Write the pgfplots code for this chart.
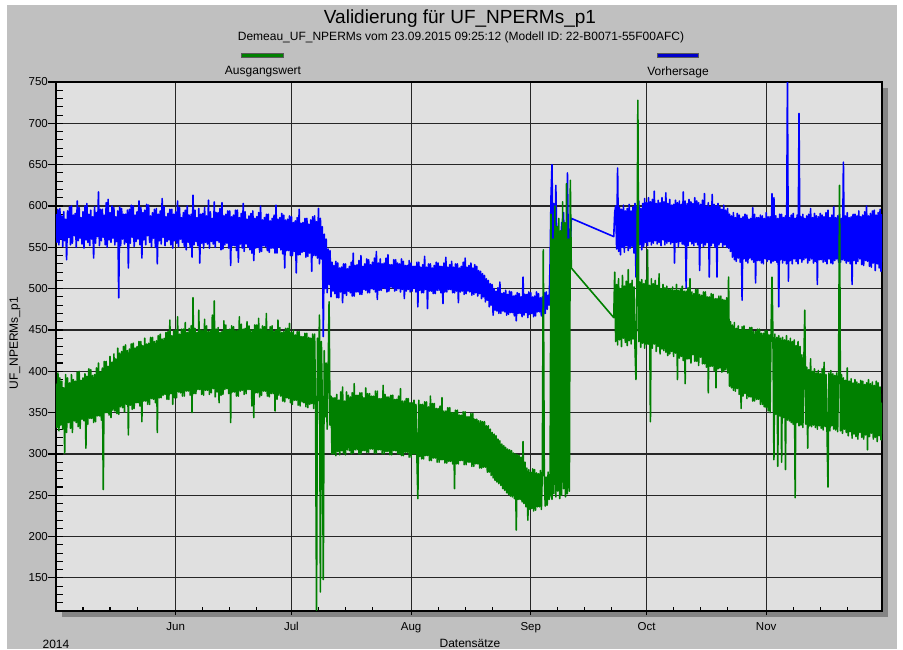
\documentclass[border=0pt]{standalone}
\usepackage{pgfplots}
\pgfplotsset{compat=1.18}
\usepackage{fontspec}
\setmainfont{Liberation Sans}
\setsansfont{Liberation Sans}

\definecolor{outerbg}{HTML}{C0C0C0}
\definecolor{plotbg}{HTML}{E0E0E0}
\definecolor{shadowc}{HTML}{858585}
\definecolor{gridc}{HTML}{262626}
\definecolor{measured}{HTML}{008000}
\definecolor{predicted}{HTML}{0000FF}

% common geometry of the plot frame and of the tick-only overlays
\pgfplotsset{
  frame/.style={
    at={(56pt,38pt)}, anchor=south west,
    scale only axis, width=826pt, height=529pt,
    xmin=0, xmax=214, ymin=110, ymax=750,
    tick pos=left,
    tick style={line width=1.1pt, black},
  },
  tickonly/.style={
    frame,
    axis line style={draw=none},
    xticklabels={}, yticklabels={},
  },
  series/.style={line width=1.6pt, line join=round},
}

\begin{document}
\begin{tikzpicture}
\useasboundingbox (0pt,0pt) rectangle (903pt,649pt);
\fill[white] (0pt,0pt) rectangle (903pt,649pt);
\fill[outerbg] (7pt,0pt) rectangle (897pt,644pt);
% drop shadow behind the plot area
\fill[shadowc] (62pt,32pt) rectangle (888pt,561pt);

% titles
\node[font=\fontsize{19}{22}\selectfont] at (460pt,630pt) {Validierung für UF\_NPERMs\_p1};
\node[font=\fontsize{12}{14}\selectfont] at (461pt,612pt) {Demeau\_UF\_NPERMs vom 23.09.2015 09:25:12 (Modell ID: 22-B0071-55F00AFC)};

% legend above the plot
\filldraw[fill=measured, draw=black!65, line width=0.6pt] (241pt,592pt) rectangle (283pt,596pt);
\filldraw[fill=predicted!80!black, draw=black!65, line width=0.6pt] (657pt,592pt) rectangle (698pt,596pt);
\node[font=\fontsize{12}{14}\selectfont] at (263pt,577pt) {Ausgangswert};
\node[font=\fontsize{12}{14}\selectfont] at (678pt,577pt) {Vorhersage};

% axis titles and year
\node[font=\fontsize{12}{14}\selectfont, rotate=90] at (15pt,306pt) {UF\_NPERMs\_p1};
\node[font=\fontsize{12}{14}\selectfont] at (470pt,6pt) {Datensätze};
\node[font=\fontsize{12}{14}\selectfont] at (56pt,5pt) {2014};

\begin{axis}[
  frame,
  axis background/.style={fill=plotbg},
  axis line style={line width=1.6pt, black},
  xtick={31,61,92,123,153,184},
  xticklabels={Jun,Jul,Aug,Sep,Oct,Nov},
  ytick={150,200,...,750},
  minor ytick={120,130,...,740},
  tick align=inside,
  major tick length=0pt,
  minor tick length=7pt,
  grid=major,
  major grid style={line width=1.1pt, gridc},
  /pgf/number format/assume math mode=true,
  ticklabel style={font=\fontsize{11.5}{13}\selectfont},
  yticklabel style={inner xsep=1pt, xshift=-7pt},
  xticklabel style={yshift=-8pt},
]

% Vorhersage (model prediction), x = days since 1 May 2014
\addplot[predicted, series] coordinates {
(0,590)(0.25,556)(0.5,596)(0.75,553)(1,597)(1.25,560)(1.5,588)(1.75,551)
(2,593)(2.25,558)(2.5,584)(2.75,535)(3,594)(3.25,562)(3.5,599)(3.75,553)
(4,600)(4.25,555)(4.5,589)(4.75,564)(5,591)(5.25,550)(5.5,606)(5.75,558)
(6,598)(6.25,561)(6.5,586)(6.75,554)(7,593)(7.25,549)(7.5,600)(7.75,559)
(8,603)(8.25,556)(8.5,590)(8.75,552)(9,595)(9.25,560)(9.5,587)(9.75,537)
(10,599)(10.25,555)(10.5,592)(10.75,563)(11,617)(11.25,552)(11.5,596)(11.75,558)
(12,596)(12.25,562)(12.5,589)(12.75,553)(13,604)(13.25,550)(13.5,608)(13.75,559)
(14,592)(14.25,556)(14.5,600)(14.75,561)(15,598)(15.25,553)(15.5,587)(15.75,557)
(16,594)(16.25,489)(16.5,599)(16.75,552)(17,597)(17.25,560)(17.5,590)(17.75,554)
(18,590)(18.25,556)(18.5,595)(18.75,525)(19,596)(19.25,555)(19.5,601)(19.75,562)
(20,600)(20.25,551)(20.5,589)(20.75,557)(21,593)(21.25,560)(21.5,606)(21.75,553)
(22,598)(22.25,537)(22.5,592)(22.75,559)(23,595)(23.25,553)(23.5,602)(23.75,564)
(24,601)(24.25,556)(24.5,588)(24.75,551)(25,592)(25.25,561)(25.5,596)(25.75,550)
(26,597)(26.25,530)(26.5,590)(26.75,558)(27,594)(27.25,554)(27.5,609)(27.75,562)
(28,599)(28.25,552)(28.5,587)(28.75,557)(29,591)(29.25,559)(29.5,596)(29.75,553)
(30,596)(30.25,549)(30.5,590)(30.75,558)(31,593)(31.25,555)(31.5,606)(31.75,551)
(32,598)(32.25,560)(32.5,586)(32.75,556)(33,592)(33.25,551)(33.5,595)(33.75,547)
(34,600)(34.25,556)(34.5,589)(34.75,550)(35,590)(35.25,538)(35.5,613)(35.75,553)
(36,595)(36.25,557)(36.5,586)(36.75,552)(37,597)(37.25,531)(37.5,590)(37.75,555)
(38,591)(38.25,549)(38.5,598)(38.75,556)(39,588)(39.25,554)(39.5,607)(39.75,549)
(40,593)(40.25,557)(40.5,585)(40.75,554)(41,605)(41.25,550)(41.5,592)(41.75,558)
(42,592)(42.25,556)(42.5,597)(42.75,547)(43,604)(43.25,548)(43.5,588)(43.75,553)
(44,590)(44.25,555)(44.5,594)(44.75,549)(45,594)(45.25,528)(45.5,587)(45.75,552)
(46,589)(46.25,552)(46.5,595)(46.75,546)(47,595)(47.25,532)(47.5,586)(47.75,554)
(48,591)(48.25,549)(48.5,603)(48.75,545)(49,593)(49.25,554)(49.5,584)(49.75,550)
(50,588)(50.25,547)(50.5,591)(50.75,543)(51,594)(51.25,534)(51.5,585)(51.75,549)
(52,587)(52.25,550)(52.5,592)(52.75,544)(53,600)(53.25,545)(53.5,583)(53.75,552)
(54,586)(54.25,551)(54.5,590)(54.75,546)(55,590)(55.25,544)(55.5,582)(55.75,549)
(56,585)(56.25,549)(56.5,589)(56.75,543)(57,601)(57.25,543)(57.5,584)(57.75,550)
(58,586)(58.25,547)(58.5,591)(58.75,542)(59,589)(59.25,525)(59.5,583)(59.75,546)
(60,584)(60.25,546)(60.5,588)(60.75,540)(61,587)(61.25,540)(61.5,580)(61.75,545)
(62,582)(62.25,519)(62.5,586)(62.75,541)(63,596)(63.25,541)(63.5,579)(63.75,544)
(64,580)(64.25,545)(64.5,585)(64.75,538)(65,585)(65.25,539)(65.5,578)(65.75,543)
(66,583)(66.25,521)(66.5,587)(66.75,540)(67,588)(67.25,540)(67.5,581)(67.75,537)
(68,597)(68.25,530)(68.5,585)(68.75,536)(69,575)(69.25,442)(69.5,566)(69.75,500)
(70,560)(70.25,495)(70.5,548)(70.75,505)(71,546)(71.25,490)(71.5,532)(71.75,497)
(72,528)(72.25,494)(72.5,533)(72.75,489)(73,531)(73.25,489)(73.5,525)(73.75,496)
(74,526)(74.25,483)(74.5,530)(74.75,494)(75,530)(75.25,492)(75.5,524)(75.75,497)
(76,527)(76.25,495)(76.5,532)(76.75,491)(77,543)(77.25,491)(77.5,528)(77.75,496)
(78,529)(78.25,496)(78.5,534)(78.75,493)(79,540)(79.25,493)(79.5,527)(79.75,499)
(80,530)(80.25,498)(80.5,536)(80.75,495)(81,535)(81.25,495)(81.5,529)(81.75,500)
(82,532)(82.25,499)(82.5,537)(82.75,496)(83,545)(83.25,487)(83.5,531)(83.75,498)
(84,536)(84.25,498)(84.5,530)(84.75,501)(85,531)(85.25,500)(85.5,537)(85.75,496)
(86,541)(86.25,497)(86.5,529)(86.75,502)(87,529)(87.25,501)(87.5,535)(87.75,497)
(88,535)(88.25,498)(88.5,531)(88.75,500)(89,530)(89.25,496)(89.5,536)(89.75,499)
(90,533)(90.25,488)(90.5,528)(90.75,497)(91,528)(91.25,499)(91.5,534)(91.75,496)
(92,531)(92.25,497)(92.5,527)(92.75,500)(93,527)(93.25,496)(93.5,532)(93.75,478)
(94,532)(94.25,498)(94.5,526)(94.75,495)(95,529)(95.25,495)(95.5,539)(95.75,499)
(96,526)(96.25,476)(96.5,530)(96.75,497)(97,530)(97.25,497)(97.5,525)(97.75,494)
(98,528)(98.25,494)(98.5,532)(98.75,498)(99,531)(99.25,498)(99.5,527)(99.75,495)
(100,527)(100.25,482)(100.5,531)(100.75,496)(101,538)(101.25,496)(101.5,526)(101.75,499)
(102,529)(102.25,499)(102.5,533)(102.75,495)(103,526)(103.25,495)(103.5,530)(103.75,497)
(104,530)(104.25,483)(104.5,525)(104.75,496)(105,527)(105.25,497)(105.5,532)(105.75,493)
(106,537)(106.25,494)(106.5,526)(106.75,497)(107,528)(107.25,496)(107.5,531)(107.75,492)
(108,525)(108.25,493)(108.5,529)(108.75,495)(109,527)(109.25,491)(109.5,522)(109.75,494)
(110,521)(110.25,488)(110.5,518)(110.75,490)(111,516)(111.25,484)(111.5,512)(111.75,486)
(112,510)(112.25,478)(112.5,506)(112.75,480)(113,505)(113.25,468)(113.5,500)(113.75,474)
(114,497)(114.25,473)(114.5,501)(114.75,470)(115,508)(115.25,470)(115.5,494)(115.75,473)
(116,495)(116.25,472)(116.5,498)(116.75,468)(117,493)(117.25,469)(117.5,497)(117.75,471)
(118,496)(118.25,471)(118.5,491)(118.75,467)(119,492)(119.25,461)(119.5,495)(119.75,470)
(120,494)(120.25,470)(120.5,490)(120.75,466)(121,514)(121.25,468)(121.5,493)(121.75,471)
(122,493)(122.25,465)(122.5,496)(122.75,469)(123,495)(123.25,470)(123.5,490)(123.75,466)
(124,491)(124.25,467)(124.5,496)(124.75,472)(125,494)(125.25,472)(125.5,489)(125.75,467)
(126,490)(126.25,468)(126.5,495)(126.75,470)(127,496)(127.25,475)(127.5,492)(127.75,480)
(128,530)(128.25,612)(128.5,650)(128.75,548)(129,603)(129.25,538)(129.5,625)(129.75,552)
(130,575)(130.25,520)(130.5,568)(130.75,531)(131,580)(131.25,540)(131.5,592)(131.75,527)
(132,560)(132.25,535)(132.5,640)(132.75,548)(133,572)(133.25,541)(133.5,585)
(144.5,563)(144.75,592)
(145,600)(145.25,548)(145.5,646)(145.75,545)(146,598)(146.25,541)(146.5,596)(146.75,550)
(147,601)(147.25,544)(147.5,594)(147.75,552)(148,597)(148.25,546)(148.5,602)(148.75,549)
(149,594)(149.25,551)(149.5,599)(149.75,543)(150,603)(150.25,514)(150.5,600)(150.75,548)
(151,606)(151.25,553)(151.5,597)(151.75,547)(152,603)(152.25,551)(152.5,609)(152.75,556)
(153,604)(153.25,552)(153.5,610)(153.75,557)(154,605)(154.25,553)(154.5,608)(154.75,555)
(155,618)(155.25,558)(155.5,603)(155.75,554)(156,607)(156.25,556)(156.5,604)(156.75,552)
(157,610)(157.25,559)(157.5,605)(157.75,553)(158,616)(158.25,555)(158.5,603)(158.75,557)
(159,608)(159.25,554)(159.5,601)(159.75,556)(160,602)(160.25,531)(160.5,607)(160.75,556)
(161,604)(161.25,551)(161.5,606)(161.75,557)(162,602)(162.25,554)(162.5,617)(162.75,553)
(163,606)(163.25,501)(163.5,603)(163.75,552)(164,608)(164.25,557)(164.5,605)(164.75,554)
(165,603)(165.25,552)(165.5,610)(165.75,556)(166,606)(166.25,553)(166.5,604)(166.75,522)
(167,602)(167.25,555)(167.5,607)(167.75,551)(168,615)(168.25,553)(168.5,600)(168.75,556)
(169,604)(169.25,514)(169.5,599)(169.75,552)(170,614)(170.25,555)(170.5,602)(170.75,550)
(171,600)(171.25,514)(171.5,603)(171.75,553)(172,599)(172.25,556)(172.5,596)(172.75,551)
(173,601)(173.25,553)(173.5,595)(173.75,550)(174,597)(174.25,549)(174.5,590)(174.75,545)
(175,588)(175.25,538)(175.5,592)(175.75,535)(176,586)(176.25,533)(176.5,591)(176.75,537)
(177,589)(177.25,532)(177.5,585)(177.75,486)(178,587)(178.25,536)(178.5,590)(178.75,533)
(179,589)(179.25,531)(179.5,584)(179.75,537)(180,585)(180.25,535)(180.5,598)(180.75,532)
(181,590)(181.25,507)(181.5,586)(181.75,534)(182,586)(182.25,534)(182.5,589)(182.75,531)
(183,588)(183.25,530)(183.5,585)(183.75,536)(184,592)(184.25,533)(184.5,587)(184.75,535)
(185,587)(185.25,531)(185.5,615)(185.75,533)(186,610)(186.25,534)(186.5,588)(186.75,532)
(187,585)(187.25,478)(187.5,590)(187.75,535)(188,590)(188.25,531)(188.5,586)(188.75,534)
(189,588)(189.25,530)(189.5,752)(189.75,509)(190,586)(190.25,534)(190.5,589)(190.75,530)
(191,591)(191.25,536)(191.5,585)(191.75,533)(192,589)(192.25,530)(192.5,712)(192.75,536)
(193,587)(193.25,532)(193.5,590)(193.75,535)(194,585)(194.25,537)(194.5,588)(194.75,531)
(195,590)(195.25,534)(195.5,597)(195.75,536)(196,586)(196.25,531)(196.5,591)(196.75,533)
(197,588)(197.25,505)(197.5,587)(197.75,535)(198,591)(198.25,535)(198.5,589)(198.75,532)
(199,587)(199.25,533)(199.5,592)(199.75,530)(200,595)(200.25,536)(200.5,586)(200.75,531)
(201,589)(201.25,530)(201.5,599)(201.75,534)(202,586)(202.25,536)(202.5,588)(202.75,532)
(203,590)(203.25,532)(203.5,585)(203.75,535)(204,653)(204.25,534)(204.5,588)(204.75,531)
(205,592)(205.25,533)(205.5,586)(205.75,530)(206,587)(206.25,505)(206.5,590)(206.75,534)
(207,590)(207.25,530)(207.5,588)(207.75,533)(208,594)(208.25,536)(208.5,587)(208.75,529)
(209,589)(209.25,528)(209.5,593)(209.75,534)(210,600)(210.25,533)(210.5,588)(210.75,527)
(211,591)(211.25,526)(211.5,594)(211.75,531)(212,595)(212.25,522)(212.5,589)(212.75,530)
(213,592)(213.25,525)(213.5,596)(213.75,521)(214,590)
};

% Ausgangswert (measured value)
\addplot[measured, series] coordinates {
(0,385)(0.25,332)(0.5,398)(0.75,328)(1,392)(1.25,335)(1.5,388)(1.75,330)
(2,380)(2.25,301)(2.5,396)(2.75,326)(3,392)(3.25,338)(3.5,386)(3.75,331)
(4,396)(4.25,326)(4.5,390)(4.75,340)(5,388)(5.25,338)(5.5,399)(5.75,333)
(6,400)(6.25,331)(6.5,389)(6.75,342)(7,392)(7.25,340)(7.5,397)(7.75,307)
(8,394)(8.25,336)(8.5,403)(8.75,343)(9,402)(9.25,343)(9.5,395)(9.75,338)
(10,396)(10.25,339)(10.5,404)(10.75,346)(11,410)(11.25,346)(11.5,399)(11.75,341)
(12,404)(12.25,257)(12.5,412)(12.75,350)(13,412)(13.25,350)(13.5,406)(13.75,347)
(14,418)(14.25,344)(14.5,411)(14.75,353)(15,421)(15.25,352)(15.5,415)(15.75,349)
(16,428)(16.25,348)(16.5,422)(16.75,357)(17,424)(17.25,356)(17.5,430)(17.75,351)
(18,432)(18.25,360)(18.5,425)(18.75,323)(19,427)(19.25,359)(19.5,433)(19.75,354)
(20,434)(20.25,355)(20.5,428)(20.75,362)(21,430)(21.25,362)(21.5,436)(21.75,358)
(22,436)(22.25,339)(22.5,431)(22.75,364)(23,440)(23.25,364)(23.5,433)(23.75,360)
(24,434)(24.25,360)(24.5,441)(24.75,367)(25,441)(25.25,366)(25.5,436)(25.75,362)
(26,437)(26.25,326)(26.5,443)(26.75,368)(27,445)(27.25,368)(27.5,439)(27.75,371)
(28,440)(28.25,372)(28.5,447)(28.75,366)(29,448)(29.25,366)(29.5,462)(29.75,373)
(30,443)(30.25,360)(30.5,449)(30.75,368)(31,450)(31.25,368)(31.5,466)(31.75,375)
(32,445)(32.25,374)(32.5,451)(32.75,370)(33,451)(33.25,370)(33.5,459)(33.75,376)
(34,447)(34.25,376)(34.5,452)(34.75,371)(35,455)(35.25,350)(35.5,489)(35.75,373)
(36,452)(36.25,373)(36.5,447)(36.75,378)(37,474)(37.25,378)(37.5,450)(37.75,372)
(38,449)(38.25,371)(38.5,463)(38.75,377)(39,455)(39.25,377)(39.5,448)(39.75,372)
(40,450)(40.25,374)(40.5,468)(40.75,379)(41,485)(41.25,369)(41.5,451)(41.75,375)
(42,453)(42.25,362)(42.5,447)(42.75,371)(43,448)(43.25,372)(43.5,461)(43.75,378)
(44,456)(44.25,379)(44.5,450)(44.75,373)(45,451)(45.25,338)(45.5,455)(45.75,375)
(46,454)(46.25,375)(46.5,449)(46.75,370)(47,449)(47.25,370)(47.5,466)(47.75,376)
(48,457)(48.25,377)(48.5,451)(48.75,372)(49,452)(49.25,373)(49.5,460)(49.75,378)
(50,455)(50.25,378)(50.5,450)(50.75,358)(51,450)(51.25,344)(51.5,456)(51.75,374)
(52,456)(52.25,374)(52.5,464)(52.75,369)(53,451)(53.25,371)(53.5,455)(53.75,376)
(54,454)(54.25,376)(54.5,470)(54.75,370)(55,449)(55.25,369)(55.5,454)(55.75,373)
(56,455)(56.25,373)(56.5,448)(56.75,352)(57,450)(57.25,366)(57.5,462)(57.75,371)
(58,453)(58.25,370)(58.5,447)(58.75,364)(59,448)(59.25,363)(59.5,452)(59.75,368)
(60,452)(60.25,367)(60.5,458)(60.75,362)(61,447)(61.25,360)(61.5,450)(61.75,365)
(62,444)(62.25,365)(62.5,448)(62.75,359)(63,448)(63.25,358)(63.5,442)(63.75,363)
(64,442)(64.25,362)(64.5,446)(64.75,357)(65,446)(65.25,356)(65.5,441)(65.75,360)
(66,440)(66.25,361)(66.5,445)(66.75,355)(67,445)(67.25,358)(67.5,111)(67.75,440)
(68,365)(68.25,468)(68.5,133)(68.75,436)(69,360)(69.25,148)(69.5,425)(69.75,345)
(70,410)(70.25,330)(70.5,395)(70.75,484)(71,335)(71.25,370)(71.5,300)(71.75,368)
(72,300)(72.25,368)(72.5,298)(72.75,372)(73,303)(73.25,365)(73.5,299)(73.75,375)
(74,304)(74.25,381)(74.5,301)(74.75,364)(75,299)(75.25,375)(75.5,305)(75.75,371)
(76,304)(76.25,369)(76.5,300)(76.75,374)(77,301)(77.25,385)(77.5,305)(77.75,371)
(78,305)(78.25,371)(78.5,300)(78.75,374)(79,300)(79.25,374)(79.5,304)(79.75,368)
(80,304)(80.25,380)(80.5,302)(80.75,373)(81,302)(81.25,373)(81.5,306)(81.75,370)
(82,306)(82.25,370)(82.5,301)(82.75,376)(83,301)(83.25,376)(83.5,305)(83.75,367)
(84,305)(84.25,367)(84.5,300)(84.75,383)(85,300)(85.25,372)(85.5,303)(85.75,369)
(86,303)(86.25,369)(86.5,299)(86.75,371)(87,299)(87.25,371)(87.5,304)(87.75,366)
(88,304)(88.25,366)(88.5,300)(88.75,370)(89,300)(89.25,379)(89.5,298)(89.75,364)
(90,298)(90.25,364)(90.5,302)(90.75,367)(91,302)(91.25,367)(91.5,296)(91.75,362)
(92,296)(92.25,362)(92.5,300)(92.75,365)(93,300)(93.25,360)(93.5,297)(93.75,246)
(94,365)(94.25,297)(94.5,360)(94.75,294)(95,360)(95.25,294)(95.5,363)(95.75,298)
(96,363)(96.25,298)(96.5,357)(96.75,292)(97,370)(97.25,292)(97.5,361)(97.75,295)
(98,361)(98.25,295)(98.5,355)(98.75,290)(99,355)(99.25,290)(99.5,358)(99.75,293)
(100,368)(100.25,293)(100.5,352)(100.75,289)(101,352)(101.25,289)(101.5,356)(101.75,291)
(102,356)(102.25,291)(102.5,350)(102.75,288)(103,350)(103.25,258)(103.5,353)(103.75,288)
(104,353)(104.25,288)(104.5,347)(104.75,292)(105,347)(105.25,292)(105.5,351)(105.75,287)
(106,351)(106.25,287)(106.5,345)(106.75,290)(107,345)(107.25,290)(107.5,349)(107.75,285)
(108,349)(108.25,285)(108.5,342)(108.75,288)(109,342)(109.25,288)(109.5,340)(109.75,283)
(110,340)(110.25,283)(110.5,339)(110.75,284)(111,339)(111.25,284)(111.5,334)(111.75,278)
(112,334)(112.25,278)(112.5,330)(112.75,274)(113,326)(113.25,271)(113.5,324)(113.75,268)
(114,322)(114.25,266)(114.5,318)(114.75,264)(115,316)(115.25,262)(115.5,312)(115.75,258)
(116,310)(116.25,256)(116.5,308)(116.75,253)(117,306)(117.25,251)(117.5,305)(117.75,249)
(118,304)(118.25,248)(118.5,301)(118.75,246)(119,300)(119.25,208)(119.5,299)(119.75,245)
(120,298)(120.25,245)(120.5,296)(120.75,242)(121,315)(121.25,240)(121.5,290)(121.75,236)
(122,283)(122.25,220)(122.5,281)(122.75,233)(123,278)(123.25,234)(123.5,282)(123.75,231)
(124,281)(124.25,232)(124.5,277)(124.75,236)(125,276)(125.25,236)(125.5,280)(125.75,233)
(126,280)(126.25,547)(126.5,274)(126.75,237)(127,272)(127.25,238)(127.5,278)(127.75,245)
(128,250)(128.25,590)(128.5,245)(128.75,560)(129,252)(129.25,600)(129.5,248)(129.75,575)
(130,255)(130.25,585)(130.5,246)(130.75,570)(131,250)(131.25,605)(131.5,258)(131.75,580)
(132,248)(132.25,627)(132.5,252)(132.75,560)(133,255)(133.25,631)(133.5,525)
(144.5,465)(144.75,520)
(145,436)(145.25,505)(145.5,432)(145.75,512)(146,438)(146.25,500)(146.5,430)(146.75,516)
(147,440)(147.25,503)(147.5,435)(147.75,509)(148,431)(148.25,523)(148.5,437)(148.75,506)
(149,433)(149.25,510)(149.5,439)(149.75,502)(150,430)(150.25,390)(150.5,503)(150.75,728)
(151,436)(151.25,508)(151.5,429)(151.75,511)(152,434)(152.25,506)(152.5,428)(152.75,510)
(153,432)(153.25,547)(153.5,433)(153.75,504)(154,339)(154.25,512)(154.5,428)(154.75,506)
(155,433)(155.25,510)(155.5,424)(155.75,504)(156,430)(156.25,518)(156.5,421)(156.75,500)
(157,427)(157.25,505)(157.5,425)(157.75,501)(158,423)(158.25,503)(158.5,419)(158.75,499)
(159,421)(159.25,500)(159.5,424)(159.75,502)(160,418)(160.25,498)(160.5,422)(160.75,505)
(161,390)(161.25,498)(161.5,416)(161.75,500)(162,418)(162.25,503)(162.5,413)(162.75,497)
(163,385)(163.25,497)(163.5,415)(163.75,501)(164,415)(164.25,512)(164.5,410)(164.75,496)
(165,420)(165.25,494)(165.5,412)(165.75,499)(166,412)(166.25,499)(166.5,407)(166.75,493)
(167,417)(167.25,492)(167.5,409)(167.75,496)(168,409)(168.25,496)(168.5,405)(168.75,490)
(169,374)(169.25,490)(169.5,406)(169.75,494)(170,406)(170.25,493)(170.5,401)(170.75,488)
(171,380)(171.25,488)(171.5,403)(171.75,491)(172,404)(172.25,491)(172.5,399)(172.75,487)
(173,400)(173.25,486)(173.5,402)(173.75,489)(174,398)(174.25,514)(174.5,382)(174.75,460)
(175,380)(175.25,456)(175.5,377)(175.75,459)(176,376)(176.25,452)(176.5,379)(176.75,455)
(177,372)(177.25,450)(177.5,355)(177.75,454)(178,370)(178.25,455)(178.5,373)(178.75,450)
(179,367)(179.25,450)(179.5,369)(179.75,453)(180,369)(180.25,453)(180.5,364)(180.75,448)
(181,364)(181.25,448)(181.5,366)(181.75,451)(182,366)(182.25,451)(182.5,360)(182.75,446)
(183,360)(183.25,446)(183.5,357)(183.75,449)(184,356)(184.25,449)(184.5,352)(184.75,444)
(185,350)(185.25,444)(185.5,514)(185.75,440)(186,293)(186.25,445)(186.5,348)(186.75,441)
(187,285)(187.25,443)(187.5,346)(187.75,440)(188,290)(188.25,441)(188.5,344)(188.75,438)
(189,281)(189.25,443)(189.5,341)(189.75,437)(190,340)(190.25,440)(190.5,338)(190.75,436)
(191,336)(191.25,438)(191.5,247)(191.75,431)(192,338)(192.25,436)(192.5,334)(192.75,430)
(193,335)(193.25,420)(193.5,332)(193.75,410)(194,474)(194.25,336)(194.5,405)(194.75,307)
(195,402)(195.25,334)(195.5,415)(195.75,333)(196,400)(196.25,335)(196.5,403)(196.75,332)
(197,398)(197.25,330)(197.5,401)(197.75,334)(198,397)(198.25,331)(198.5,403)(198.75,329)
(199,411)(199.25,333)(199.5,396)(199.75,330)(200,260)(200.25,398)(200.5,328)(200.75,401)
(201,334)(201.25,397)(201.5,330)(201.75,395)(202,329)(202.25,398)(202.5,327)(202.75,394)
(203,625)(203.25,328)(203.5,396)(203.75,325)(204,392)(204.25,330)(204.5,389)(204.75,326)
(205,404)(205.25,322)(205.5,388)(205.75,327)(206,391)(206.25,319)(206.5,386)(206.75,324)
(207,390)(207.25,321)(207.5,387)(207.75,318)(208,385)(208.25,326)(208.5,389)(208.75,320)
(209,388)(209.25,318)(209.5,384)(209.75,323)(210,386)(210.25,305)(210.5,390)(210.75,321)
(211,385)(211.25,325)(211.5,387)(211.75,318)(212,383)(212.25,320)(212.5,388)(212.75,315)
(213,386)(213.25,322)(213.5,381)(213.75,317)(214,362)
};
\end{axis}

% weekly ticks, pointing into the plot
\begin{axis}[tickonly, tick align=inside, major tick length=4pt,
  xtick={7,14,21,38,45,52,68,75,82,99,106,113,130,137,144,160,167,174,191,198,205},
  ytick=\empty]
\end{axis}
% month ticks below the frame
\begin{axis}[tickonly, tick align=outside, major tick length=4pt,
  xtick={31,61,92,123,153,184}, ytick=\empty]
\end{axis}
% value ticks left of the frame
\begin{axis}[tickonly, tick align=outside, major tick length=8pt,
  xtick=\empty, ytick={150,200,...,750}]
\end{axis}
\end{tikzpicture}
\end{document}
